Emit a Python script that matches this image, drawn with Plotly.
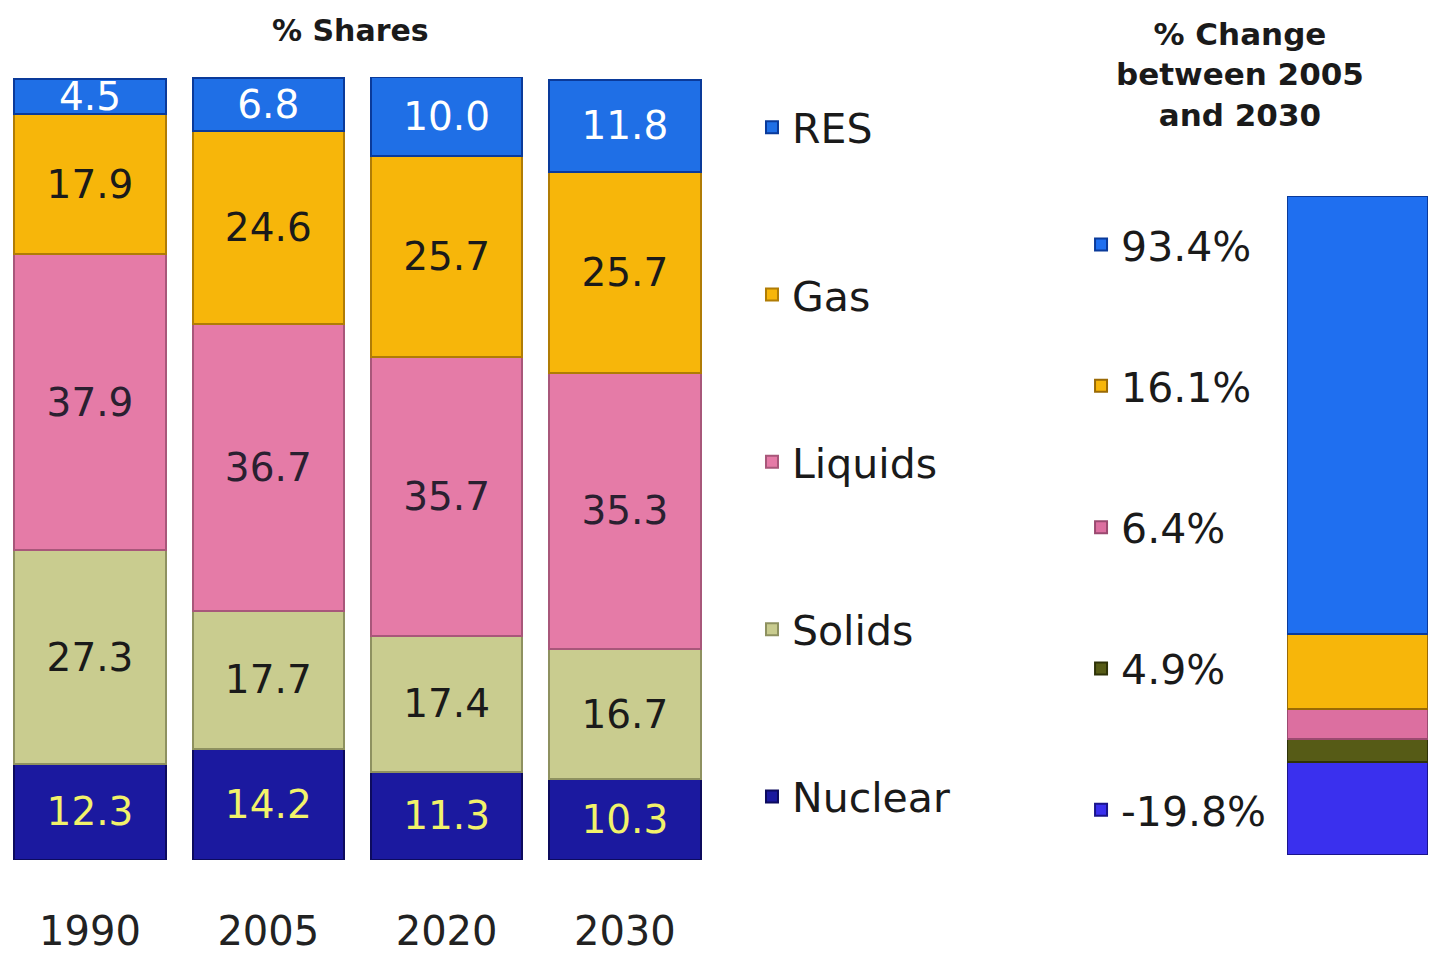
import plotly.graph_objects as go

# ---- data ----
years = ["1990", "2005", "2020", "2030"]
res = [4.5, 6.8, 10.0, 11.8]
gas = [17.9, 24.6, 25.7, 25.7]
liquids = [37.9, 36.7, 35.7, 35.3]
solids = [27.3, 17.7, 17.4, 16.7]
nuclear = [12.3, 14.2, 11.3, 10.3]

fuels = ["Nuclear", "Solids", "Liquids", "Gas", "RES"]
change_2005_2030 = [-19.8, 4.9, 6.4, 16.1, 93.4]  # same order as fuels
change_category = ["2005-2030"]

# ---- styles ----
FONT = "DejaVu Sans"
W, H = 1422, 946   # figure size (page body keeps an 8px margin)
OFF = 8


def px(sx):
    return (sx - OFF) / W


def py(sy):
    return 1 - (sy - OFF) / H


left_colors = {"Nuclear": "#1b199f", "Solids": "#c9cc8f", "Liquids": "#e57ba7",
               "Gas": "#f7b60a", "RES": "#1f6fe6"}
left_edges = {"Nuclear": "#0d0b5e", "Solids": "#8e9160", "Liquids": "#a8577a",
              "Gas": "#b07c05", "RES": "#0a3a9a"}
label_colors = {"Nuclear": "#f2f26a", "Solids": "#1a1a1a", "Liquids": "#2a2030",
                "Gas": "#1a1a1a", "RES": "#ffffff"}
right_colors = {"Nuclear": "#3a30ee", "Solids": "#565b16", "Liquids": "#dc6fa0",
                "Gas": "#f7b60a", "RES": "#1f6ff0"}
right_edges = {"Nuclear": "#1a148c", "Solids": "#2e3208", "Liquids": "#9a4a70",
               "Gas": "#9a6a05", "RES": "#0a3a9a"}
rank = {"RES": 1, "Gas": 2, "Liquids": 3, "Solids": 4, "Nuclear": 5}

series = {"Nuclear": nuclear, "Solids": solids, "Liquids": liquids, "Gas": gas, "RES": res}
stack_max = max(sum(v) for v in zip(*series.values()))

fig = go.Figure()

for f in fuels:
    vals = series[f]
    fig.add_trace(go.Bar(
        x=years, y=vals, name=f, legendgroup=f, legend="legend", legendrank=rank[f],
        marker=dict(color=left_colors[f], line=dict(color=left_edges[f], width=2)),
        width=0.85,
        text=[f"{v:.1f}" for v in vals], textposition="inside",
        insidetextanchor="middle", constraintext="none", cliponaxis=False,
        textfont=dict(family=FONT, size=39, color=label_colors[f]),
        xaxis="x", yaxis="y", hoverinfo="x+y+name",
    ))

for f, c in zip(fuels, change_2005_2030):
    fig.add_trace(go.Bar(
        x=change_category, y=[abs(c)], name=f"{c:.1f}%", legendgroup="r" + f,
        legend="legend2", legendrank=rank[f],
        marker=dict(color=right_colors[f], line=dict(color=right_edges[f], width=2)),
        width=1.0, xaxis="x2", yaxis="y2",
        customdata=[c], hovertemplate="%{customdata:.1f}%<extra></extra>",
    ))

total_abs = sum(abs(c) for c in change_2005_2030)

fig.update_layout(
    width=W, height=H,
    margin=dict(l=0, r=0, t=0, b=0),
    paper_bgcolor="white", plot_bgcolor="white",
    barmode="stack",
    font=dict(family=FONT, color="#1a1a1a"),
    showlegend=True,
    xaxis=dict(domain=[0, px(714)], type="category", range=[-0.46, 3.5],
               showgrid=False, zeroline=False, showline=False,
               ticks="outside", ticklen=36, tickcolor="rgba(0,0,0,0)",
               tickfont=dict(family=FONT, size=40, color="#222222")),
    yaxis=dict(domain=[py(860), py(77)], range=[0, stack_max + 0.05], visible=False),
    xaxis2=dict(domain=[px(1287), px(1428)], type="category", visible=False,
                range=[-0.5, 0.5]),
    yaxis2=dict(domain=[py(855), py(196)], range=[0, total_abs], visible=False,
                anchor="x2"),
    legend=dict(x=0.5232, xanchor="left", y=0.909, yanchor="top",
                traceorder="grouped", tracegroupgap=111,
                font=dict(family=FONT, size=41, color="#1a1a1a"),
                bgcolor="rgba(0,0,0,0)", itemclick=False, itemdoubleclick=False),
    legend2=dict(x=0.7546, xanchor="left", y=0.785, yanchor="top",
                 traceorder="grouped", tracegroupgap=85,
                 font=dict(family=FONT, size=41, color="#1a1a1a"),
                 bgcolor="rgba(0,0,0,0)", itemclick=False, itemdoubleclick=False),
    annotations=[
        dict(text="<b>% Shares</b>", x=px(350), y=py(30), xref="paper", yref="paper",
             xanchor="center", yanchor="middle", showarrow=False,
             font=dict(family=FONT, size=30, color="#1a1a1a")),
        dict(text="<b>% Change<br>between 2005<br>and 2030</b>", x=px(1240), y=py(74),
             xref="paper", yref="paper", xanchor="center", yanchor="middle",
             showarrow=False, font=dict(family=FONT, size=31, color="#1a1a1a")),
    ],
)

fig.write_html("out.html")
